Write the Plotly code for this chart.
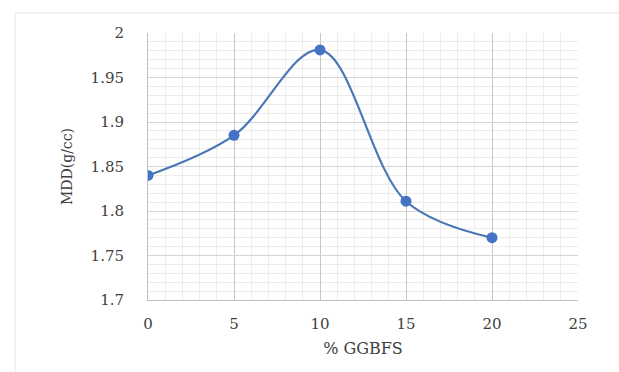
import plotly.graph_objects as go

ggbfs = [0, 5, 10, 15, 20]
mdd = [1.84, 1.885, 1.981, 1.811, 1.770]
x_ticks = [0, 5, 10, 15, 20, 25]
y_ticks = [1.7, 1.75, 1.8, 1.85, 1.9, 1.95, 2.0]
y_labels = ["1.7", "1.75", "1.8", "1.85", "1.9", "1.95", "2"]

fig = go.Figure()
fig.add_trace(go.Scatter(
    x=ggbfs, y=mdd, mode="lines+markers",
    line=dict(color="#4a78b5", width=2.2, shape="spline", smoothing=1.0),
    marker=dict(color="#4472c4", size=11),
    showlegend=False,
))

font = "DejaVu Serif"
fig.update_layout(
    width=619, height=372,
    margin=dict(l=148, r=41, t=33, b=72),
    paper_bgcolor="white", plot_bgcolor="white",
    font=dict(family=font, size=15, color="#404040"),
    xaxis=dict(
        range=[0, 25], tickvals=x_ticks, ticktext=[str(v) for v in x_ticks],
        showgrid=True, gridcolor="#c8c8c8", gridwidth=1,
        minor=dict(dtick=1, showgrid=True, gridcolor="#ececec", gridwidth=1),
        zeroline=False, showline=True, linecolor="#bfbfbf", linewidth=1,
        ticks="", ticklabelstandoff=10,
        title=dict(text="% GGBFS", font=dict(family=font, size=16, color="#404040"), standoff=10),
    ),
    yaxis=dict(
        range=[1.7, 2.0], tickvals=y_ticks, ticktext=y_labels,
        showgrid=True, gridcolor="#d4d4d4", gridwidth=1,
        minor=dict(dtick=0.01, showgrid=True, gridcolor="#ececec", gridwidth=1),
        zeroline=False, showline=True, linecolor="#bfbfbf", linewidth=1,
        ticks="", ticklabelstandoff=20,
        title=dict(text="MDD(g/cc)", font=dict(family=font, size=14, color="#404040"), standoff=14),
    ),
    shapes=[dict(type="rect", xref="paper", yref="paper",
                 x0=-0.309, x1=1.2, y0=-0.5, y1=1.075,
                 line=dict(color="#e6e6e6", width=1), layer="below")],
)
fig.write_html("out.html")
